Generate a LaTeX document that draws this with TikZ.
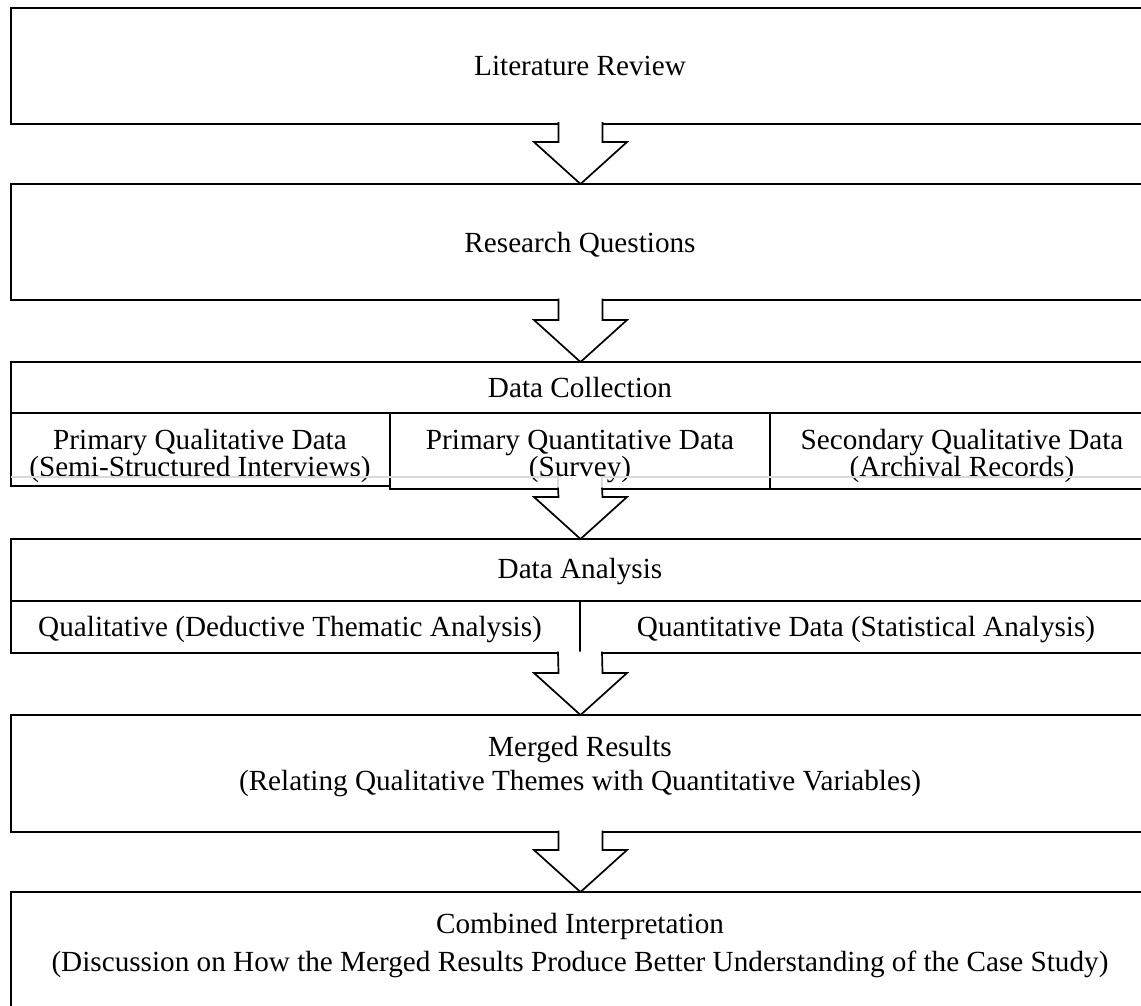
\documentclass[tikz,border=0pt]{standalone}
\usepackage{fontspec}
\setmainfont{Liberation Serif}
\usetikzlibrary{calc}
\begin{document}
\begin{tikzpicture}[x=1pt,y=-1pt,
  box/.style={draw, line width=2pt, rectangle, inner sep=0pt, outer sep=0pt, anchor=north west},
  cell/.style={draw, line width=1.7pt, rectangle, inner sep=0pt, outer sep=0pt, anchor=north west},
  txt/.style={font=\fontsize{29.2}{34}\selectfont, anchor=base, inner sep=0pt},
  arrowline/.style={draw, fill=white, line width=1.7pt, line join=miter},
  faint/.style={draw=black!15, line width=1.5pt}]
\useasboundingbox (0,0) rectangle (1141,1005);
\clip (0,0) rectangle (1141,1005);

% stages, top to bottom
\node[box, minimum width=1139pt, minimum height=116pt] (lit) at (11,7.5) {};
\node[box, minimum width=1139pt, minimum height=116pt] (rq) at (11,184) {};
\node[box, minimum width=1139pt, minimum height=51pt] (dc) at (11,362) {};
\node[cell, minimum width=379pt, minimum height=73pt] (dcl) at (11,413) {};
\node[cell, minimum width=380pt, minimum height=76pt] (dcm) at (390,413) {};
\node[cell, minimum width=380pt, minimum height=76pt] (dcr) at (770,413) {};
\node[box, minimum width=1139pt, minimum height=61.5pt] (da) at (11,539) {};
\node[cell, minimum width=569pt, minimum height=52.5pt] (dal) at (11,600.5) {};
\node[cell, minimum width=570pt, minimum height=52.5pt] (dar) at (580,600.5) {};
\node[box, minimum width=1139pt, minimum height=117pt] (mr) at (11,715) {};
\node[box, minimum width=1139pt, minimum height=140pt] (ci) at (11,892) {};

% texts
\node[txt] (tlit) at (580,75) {Literature Review};
\node[txt] (trq) at (580,252) {Research Questions};
\node[txt] (tdc) at (580,397) {Data Collection};
\node[txt] (tdcl1) at (200,449) {Primary Qualitative Data};
\node[txt] (tdcl2) at (200,476) {(Semi-Structured Interviews)};
\node[txt] (tdcm1) at (580,449) {Primary Quantitative Data};
\node[txt] (tdcm2) at (580,476) {(Survey)};
\node[txt] (tdcr1) at (962,449) {Secondary Qualitative Data};
\node[txt] (tdcr2) at (962,476) {(Archival Records)};
\node[txt] (tda) at (580,578) {Data Analysis};
\node[txt] (tdal) at (290,636) {Qualitative (Deductive Thematic Analysis)};
\node[txt] (tdar) at (866,636) {Quantitative Data (Statistical Analysis)};
\node[txt] (tmr1) at (580,756) {Merged Results};
\node[txt] (tmr2) at (580,790) {(Relating Qualitative Themes with Quantitative Variables)};
\node[txt] (tci1) at (580,933) {Combined Interpretation};
\node[txt] (tci2) at (580,971) {(Discussion on How the Merged Results Produce Better Understanding of the Case Study)};

% faint outline left under the data collection cells
\draw[faint] (11,477) -- (558,477) -- (558,489);
\draw[faint] (1150,477) -- (602,477) -- (602,489);

% block arrows between stages
\newcommand{\blockarrow}[2]{%
  \draw[arrowline] ($(#1)+(-22,-1.4)$) -- ($(#2)+(-22,-42)$) -- ($(#2)+(-46.5,-42)$)
    -- (#2) -- ($(#2)+(46.5,-42)$) -- ($(#2)+(22,-42)$) -- ($(#1)+(22,-1.4)$);}
\blockarrow{lit.south}{rq.north}
\blockarrow{rq.south}{dc.north}
\blockarrow{dcm.south}{da.north}
\blockarrow{dar.south west}{mr.north}
\blockarrow{mr.south}{ci.north}
\end{tikzpicture}
\end{document}
